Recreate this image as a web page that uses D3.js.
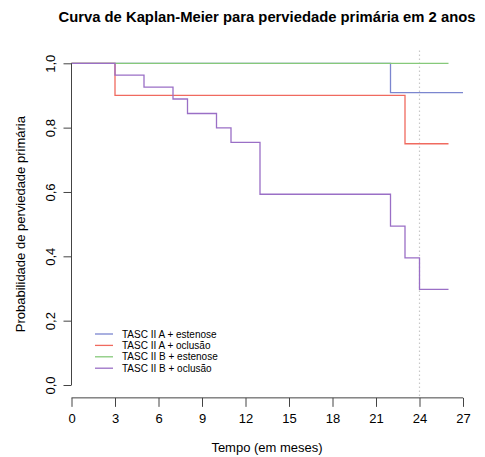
<!DOCTYPE html>
<html>
<head>
<meta charset="utf-8">
<script src="https://cdn.jsdelivr.net/npm/d3@7"></script>
<style>
  body { margin: 0; background: #fff; }
  text { font-family: "Liberation Sans", Arial, sans-serif; fill: #000; }
</style>
</head>
<body>
<div id="chart"></div>
<script>

// group names and colours
var groups = ["TASC II A + estenose", "TASC II A + oclusão", "TASC II B + estenose", "TASC II B + oclusão"]
var colors = ["#7b86cf", "#f06a5f", "#86c97a", "#9a6fc6"]

// step times and survival for each group
var timesAest = [0, 22, 27]
var survAest  = [1, 0.909, 0.909]

var timesAocl = [0, 3, 23, 26]
var survAocl  = [1, 0.90, 0.75, 0.75]

var timesBest = [0, 26]
var survBest  = [1, 1]

var timesBocl = [0, 3, 5, 7, 8, 10, 11, 13, 22, 23, 24, 26]
var survBocl  = [1, 0.963, 0.926, 0.889, 0.844, 0.799, 0.754, 0.593, 0.494, 0.395, 0.297, 0.297]

var xTicks = [0, 3, 6, 9, 12, 15, 18, 21, 24, 27]
var yTicks = [0, 0.2, 0.4, 0.6, 0.8, 1.0]
var refLine = 24

var series = [
    { times: timesAest, surv: survAest },
    { times: timesAocl, surv: survAocl },
    { times: timesBest, surv: survBest },
    { times: timesBocl, surv: survBocl }
]

var width = 485, height = 457

var svg = d3.select("#chart").append("svg")
    .attr("width", width)
    .attr("height", height)

var x = d3.scaleLinear().domain([0, 27]).range([71.5, 463])
var y = d3.scaleLinear().domain([0, 1]).range([385, 63.3])

var axisY = y(-0.04)

// dotted reference line at 24 months
svg.append("line")
    .attr("x1", x(refLine)).attr("x2", x(refLine))
    .attr("y1", y(1.04)).attr("y2", axisY)
    .style("stroke", "#c8c8c8")
    .style("stroke-width", 1.2)
    .style("stroke-dasharray", "1.5,2.5")

// km curves
var line = d3.line()
    .x(function(d) { return x(d[0]) })
    .y(function(d) { return y(d[1]) })
    .curve(d3.curveStepAfter)

series.forEach(function(s, i) {
    var pts = s.times.map(function(t, j) { return [t, s.surv[j]] })
    svg.append("path")
        .attr("d", line(pts))
        .style("fill", "none")
        .style("stroke", colors[i])
        .style("stroke-width", 1.3)
})

// x axis
var gx = svg.append("g")
    .attr("transform", "translate(0," + axisY + ")")
    .call(d3.axisBottom(x).tickValues(xTicks).tickSize(9).tickPadding(7).tickFormat(d3.format("d")))

gx.selectAll("path").attr("d", "M" + x(0) + ",0H" + x(27))

// y axis
var gy = svg.append("g")
    .attr("transform", "translate(" + x(0) + ",0)")
    .call(d3.axisLeft(y).tickValues(yTicks).tickSize(8).tickFormat(function(d) { return d3.format(".1f")(d).replace(".", ",") }))

gy.selectAll("path").attr("d", "M0," + y(0) + "V" + y(1))

gy.selectAll(".tick text")
    .attr("transform", "rotate(-90)")
    .attr("x", 0)
    .attr("y", -21)
    .attr("dy", "0.35em")
    .style("text-anchor", "middle")

svg.selectAll(".domain, .tick line").style("stroke", "#444").style("stroke-width", 1)
svg.selectAll(".tick text").style("font-size", "13px").style("font-family", "Liberation Sans, Arial, sans-serif")

// title and axis labels
svg.append("text")
    .attr("x", 267)
    .attr("y", 22)
    .style("text-anchor", "middle")
    .style("font-size", "14.8px")
    .style("font-weight", "bold")
    .text("Curva de Kaplan-Meier para perviedade primária em 2 anos")

svg.append("text")
    .attr("x", 267)
    .attr("y", 452)
    .style("text-anchor", "middle")
    .style("font-size", "13px")
    .text("Tempo (em meses)")

svg.append("text")
    .attr("transform", "translate(25," + y(0.5) + ") rotate(-90)")
    .style("text-anchor", "middle")
    .style("font-size", "13px")
    .text("Probabilidade de perviedade primária")

// legend
var legend = svg.append("g")

groups.forEach(function(g, i) {
    var ly = 334 + i * 11.4
    legend.append("line")
        .attr("x1", 95).attr("x2", 113)
        .attr("y1", ly).attr("y2", ly)
        .style("stroke", colors[i])
        .style("stroke-width", 1.3)
    legend.append("text")
        .attr("x", 122)
        .attr("y", ly)
        .attr("dy", "0.35em")
        .style("font-size", "10px")
        .text(g)
})

</script>
</body>
</html>
